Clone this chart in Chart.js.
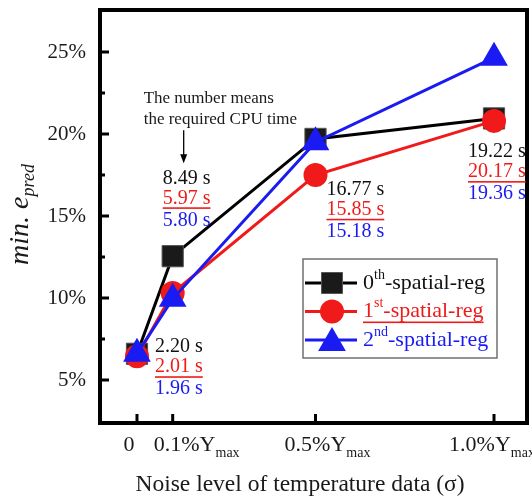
<!DOCTYPE html>
<html>
<head>
<meta charset="utf-8">
<script src="https://cdn.jsdelivr.net/npm/chart.js@4.4.1/dist/chart.umd.min.js"></script>
<style>
html, body { margin: 0; padding: 0; background: #fff; }
#wrap { width: 532px; height: 500px; }
</style>
</head>
<body>
<div id="wrap"><canvas id="chart" width="532" height="500"></canvas></div>
<script>
// noise level (fraction of Ymax, in %)
var noiseLevels = [0, 0.1, 0.5, 1.0];
var xTickMain = ['0', '0.1%Y', '0.5%Y', '1.0%Y'];
var xTickSub = ['', 'max', 'max', 'max'];
var yTicks = [5, 10, 15, 20, 25];
var yMinorTicks = [7.5, 12.5, 17.5, 22.5];

// min. e_pred (%)
var errReg0 = [6.6, 12.55, 19.7, 20.95];
var errReg1 = [6.45, 10.3, 17.5, 20.8];
var errReg2 = [6.6, 9.95, 19.5, 24.65];

// CPU time labels
var cpuReg0 = ['2.20 s', '8.49 s', '16.77 s', '19.22 s'];
var cpuReg1 = ['2.01 s', '5.97 s', '15.85 s', '20.17 s'];
var cpuReg2 = ['1.96 s', '5.80 s', '15.18 s', '19.36 s'];

var seriesNames = ['th', 'st', 'nd'];

var SERIF = '"Liberation Serif", "DejaVu Serif", serif';
var BLACK = '#111111';
var RED = '#f01a1a';
var BLUE = '#1a1af2';

// label placement (pixel shift from tick, y in data units)
var annShift = [18, -10, 11, -26];
var annAt = [7.0, 17.3, 16.6, 18.9];
var xLabelShift = [-8, 24, 12, -2];

function drawParts(ctx, x, y, parts) {
    var cx = x;
    parts.forEach(function (p) {
        ctx.font = p.font;
        ctx.fillText(p.t, cx, y + (p.dy || 0));
        cx += ctx.measureText(p.t).width;
    });
    return cx - x;
}
function partsWidth(ctx, parts) {
    var w = 0;
    parts.forEach(function (p) { ctx.font = p.font; w += ctx.measureText(p.t).width; });
    return w;
}

function marker(ctx, style, x, y, color) {
    ctx.save();
    ctx.fillStyle = color;
    ctx.beginPath();
    if (style === 'rect') {
        ctx.rect(x - 10.5, y - 10.5, 21, 21);
        ctx.fill();
        ctx.strokeStyle = '#555';
        ctx.lineWidth = 1;
        ctx.stroke();
    } else if (style === 'circle') {
        ctx.arc(x, y, 12, 0, Math.PI * 2);
        ctx.fill();
    } else {
        var r = 16;
        ctx.moveTo(x, y - r);
        ctx.lineTo(x + r * 0.866, y + r * 0.5);
        ctx.lineTo(x - r * 0.866, y + r * 0.5);
        ctx.closePath();
        ctx.fill();
    }
    ctx.restore();
}

var decorations = {
    id: 'decorations',
    afterDraw: function (chart) {
        var ctx = chart.ctx;
        var a = chart.chartArea;
        var xs = chart.scales.x, ys = chart.scales.y;
        ctx.save();

        // frame
        ctx.strokeStyle = '#000';
        ctx.lineWidth = 4;
        ctx.strokeRect(a.left, a.top, a.right - a.left, a.bottom - a.top);

        // inward ticks
        ctx.lineWidth = 3;
        ctx.beginPath();
        yTicks.forEach(function (v) {
            var py = ys.getPixelForValue(v);
            ctx.moveTo(a.left, py); ctx.lineTo(a.left + 9, py);
        });
        yMinorTicks.forEach(function (v) {
            var py = ys.getPixelForValue(v);
            ctx.moveTo(a.left, py); ctx.lineTo(a.left + 5, py);
        });
        noiseLevels.forEach(function (v) {
            var px = xs.getPixelForValue(v);
            ctx.moveTo(px, a.bottom); ctx.lineTo(px, a.bottom - 9);
        });
        ctx.stroke();

        // x tick labels with subscript
        ctx.fillStyle = '#1a1a1a';
        ctx.textBaseline = 'middle';
        ctx.textAlign = 'left';
        noiseLevels.forEach(function (v, i) {
            var parts = [{ t: xTickMain[i], font: '22px ' + SERIF }];
            if (xTickSub[i]) parts.push({ t: xTickSub[i], font: '14px ' + SERIF, dy: 8 });
            var w = partsWidth(ctx, parts);
            var cx = xs.getPixelForValue(v) + xLabelShift[i];
            drawParts(ctx, cx - w / 2, a.bottom + 22, parts);
        });

        // axis titles
        ctx.font = '23.5px ' + SERIF;
        ctx.textAlign = 'center';
        ctx.fillText('Noise level of temperature data (\u03c3)', 300, a.bottom + 62);

        ctx.save();
        ctx.translate(21, (a.top + a.bottom) / 2 - 2);
        ctx.rotate(-Math.PI / 2);
        ctx.textAlign = 'left';
        var tparts = [
            { t: 'min. e', font: 'italic 28px ' + SERIF },
            { t: 'pred', font: 'italic 18px ' + SERIF, dy: 8 }
        ];
        drawParts(ctx, -partsWidth(ctx, tparts) / 2, 0, tparts);
        ctx.restore();

        // CPU time annotations
        ctx.textAlign = 'left';
        ctx.font = '20px ' + SERIF;
        noiseLevels.forEach(function (v, i) {
            var x = xs.getPixelForValue(v) + annShift[i];
            var y = ys.getPixelForValue(annAt[i]);
            ctx.fillStyle = BLACK;
            ctx.fillText(cpuReg0[i], x, y);
            ctx.fillStyle = RED;
            ctx.fillText(cpuReg1[i], x, y + 20);
            var w = ctx.measureText(cpuReg1[i]).width;
            ctx.fillRect(x, y + 29, w, 1.6);
            ctx.fillStyle = BLUE;
            ctx.fillText(cpuReg2[i], x, y + 42);
        });

        // note with arrow
        var nx = xs.getPixelForValue(noiseLevels[1]);
        var ny = ys.getPixelForValue(annAt[1]);
        ctx.fillStyle = '#1a1a1a';
        ctx.font = '17px ' + SERIF;
        ctx.fillText('The number means', nx - 29, ny - 80);
        ctx.fillText('the required CPU time', nx - 29, ny - 59);
        ctx.strokeStyle = '#000';
        ctx.lineWidth = 1.3;
        ctx.beginPath();
        ctx.moveTo(nx + 11, ny - 48); ctx.lineTo(nx + 11, ny - 20);
        ctx.stroke();
        ctx.beginPath();
        ctx.moveTo(nx + 11, ny - 15); ctx.lineTo(nx + 7.5, ny - 24); ctx.lineTo(nx + 14.5, ny - 24);
        ctx.closePath();
        ctx.fillStyle = '#000';
        ctx.fill();

        // legend
        var lx = a.right - 224, ly = a.top + 249;
        ctx.fillStyle = '#fff';
        ctx.fillRect(lx, ly, 194, 99);
        ctx.strokeStyle = '#707070';
        ctx.lineWidth = 1.5;
        ctx.strokeRect(lx, ly, 194, 99);
        var styles = ['rect', 'circle', 'triangle'];
        var colors = ['#1a1a1a', RED, BLUE];
        var lineColors = ['#000', RED, BLUE];
        [0, 1, 2].forEach(function (k) {
            var ry = ly + 24 + k * 28.5;
            ctx.strokeStyle = lineColors[k];
            ctx.lineWidth = 3;
            ctx.beginPath();
            ctx.moveTo(lx + 2, ry); ctx.lineTo(lx + 54, ry);
            ctx.stroke();
            marker(ctx, styles[k], lx + 29, ry + (k === 2 ? 3 : 0), colors[k]);
            ctx.fillStyle = k === 0 ? BLACK : lineColors[k];
            ctx.textAlign = 'left';
            var parts = [
                { t: String(k), font: '22px ' + SERIF },
                { t: seriesNames[k], font: '14px ' + SERIF, dy: -8 },
                { t: '-spatial-reg', font: '22px ' + SERIF }
            ];
            var w = drawParts(ctx, lx + 60, ry, parts);
            if (k === 1) ctx.fillRect(lx + 60, ry + 10, w, 1.6);
        });

        ctx.restore();
    }
};

var ctx = document.getElementById('chart').getContext('2d');
new Chart(ctx, {
    type: 'line',
    data: {
        datasets: [
            {
                label: '2nd-spatial-reg',
                data: noiseLevels.map(function (x, i) { return { x: x, y: errReg2[i] }; }),
                borderColor: BLUE, backgroundColor: BLUE,
                borderWidth: 3, pointStyle: 'triangle', pointRadius: 16,
                pointBorderWidth: 0, order: 0
            },
            {
                label: '1st-spatial-reg',
                data: noiseLevels.map(function (x, i) { return { x: x, y: errReg1[i] }; }),
                borderColor: RED, backgroundColor: RED,
                borderWidth: 3, pointStyle: 'circle', pointRadius: 12,
                pointBorderWidth: 0, order: 1
            },
            {
                label: '0th-spatial-reg',
                data: noiseLevels.map(function (x, i) { return { x: x, y: errReg0[i] }; }),
                borderColor: '#000', backgroundColor: '#1a1a1a',
                pointBorderColor: '#555', pointBorderWidth: 1,
                borderWidth: 3, pointStyle: 'rect', pointRadius: 15, order: 2
            }
        ]
    },
    options: {
        responsive: false,
        animation: false,
        devicePixelRatio: 1,
        layout: { autoPadding: false, padding: { top: 10, right: 5, left: 0, bottom: 0 } },
        plugins: { legend: { display: false }, tooltip: { enabled: false } },
        scales: {
            x: {
                type: 'linear',
                min: -0.1036, max: 1.0924,
                afterFit: function (s) { s.height = 77; s.paddingLeft = 0; s.paddingRight = 0; },
                afterBuildTicks: function (s) { s.ticks = noiseLevels.map(function (v) { return { value: v }; }); },
                ticks: { display: false },
                grid: { display: false, drawTicks: false },
                border: { display: false }
            },
            y: {
                min: 2.38, max: 27.56,
                afterFit: function (s) { s.width = 100; s.paddingTop = 0; s.paddingBottom = 0; },
                afterBuildTicks: function (s) { s.ticks = yTicks.map(function (v) { return { value: v }; }); },
                ticks: {
                    padding: 14,
                    color: '#1a1a1a',
                    font: { family: SERIF, size: 21 },
                    callback: function (v) { return v + '%'; }
                },
                grid: { display: false, drawTicks: false },
                border: { display: false }
            }
        }
    },
    plugins: [decorations]
});
</script>
</body>
</html>
